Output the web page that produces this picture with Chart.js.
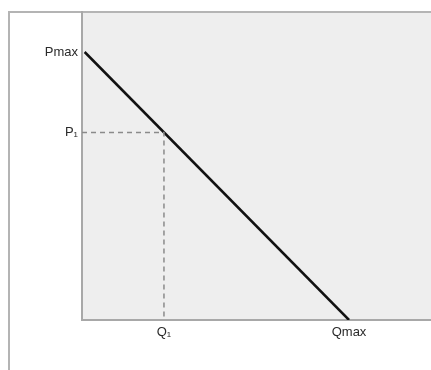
<!DOCTYPE html>
<html>
<head>
<meta charset="utf-8">
<script src="https://cdn.jsdelivr.net/npm/chart.js@4/dist/chart.umd.min.js"></script>
<style>
  html, body { margin:0; padding:0; background:#fff; overflow:hidden; }
  #wrap { width:431px; height:370px; }
</style>
</head>
<body>
<div id="wrap"><canvas id="demand-chart" width="431" height="370"></canvas></div>
<script>
// demand curve endpoints (quantity, price)
const demandQ = [0, 10];
const demandP = [10, 0];
// marked point on the curve
const markQ = 3;
const markP = 7;
// axis ticks
const xTickValues = [3, 10];
const xTickLabels = ["Q\u2081", "Qmax"];
const yTickValues = [7, 10];
const yTickLabels = ["P\u2081", "Pmax"];

const X_MIN = -0.1, X_MAX = 13.1, Y_MIN = 0, Y_MAX = 11.5;

(function(){
    const canvas = document.getElementById("demand-chart");

    const backdrop = {
        id: "backdrop",
        beforeDraw(chart){
            const {ctx, chartArea:a} = chart;
            ctx.save();
            ctx.fillStyle = "#eeeeee";
            ctx.fillRect(a.left, a.top, a.right - a.left, a.bottom - a.top);
            // outer frame
            ctx.strokeStyle = "#b4b4b4";
            ctx.lineWidth = 2;
            ctx.beginPath();
            ctx.moveTo(9, chart.height);
            ctx.lineTo(9, 12);
            ctx.lineTo(chart.width, 12);
            ctx.stroke();
            ctx.restore();
        }
    };

    const labelFor = (values, labels) => (v) => {
        const i = values.indexOf(v);
        return i >= 0 ? labels[i] : "";
    };

    const tickFont = { family: "'Liberation Sans', Arial, sans-serif", size: 13 };

    new Chart(canvas, {
        type: "line",
        data: {
            datasets: [
                {
                    label: "guide",
                    data: [{x: X_MIN, y: markP}, {x: markQ, y: markP}, {x: markQ, y: Y_MIN}],
                    borderColor: "#8a8a8a",
                    borderWidth: 1.5,
                    borderDash: [5, 4],
                    pointRadius: 0,
                    fill: false
                },
                {
                    label: "demand",
                    data: demandQ.map((q, i) => ({x: q, y: demandP[i]})),
                    borderColor: "#111111",
                    borderWidth: 2.5,
                    pointRadius: 0,
                    fill: false
                }
            ]
        },
        options: {
            responsive: false,
            animation: false,
            layout: { padding: { left: 0, top: 11, right: 0, bottom: 0 } },
            plugins: { legend: { display: false }, tooltip: { enabled: false } },
            scales: {
                x: {
                    type: "linear",
                    min: X_MIN,
                    max: X_MAX,
                    grid: { display: false, drawTicks: false, tickLength: 0 },
                    border: { display: true, color: "#a8a8a8", width: 2 },
                    afterBuildTicks: (s) => { s.ticks = xTickValues.map(v => ({value: v})); },
                    afterFit: (s) => { s.height = 50; },
                    ticks: {
                        padding: 5,
                        color: "#2a2a2a",
                        font: tickFont,
                        callback: labelFor(xTickValues, xTickLabels)
                    }
                },
                y: {
                    type: "linear",
                    min: Y_MIN,
                    max: Y_MAX,
                    grid: { display: false, drawTicks: false, tickLength: 0 },
                    border: { display: true, color: "#a8a8a8", width: 2 },
                    afterBuildTicks: (s) => { s.ticks = yTickValues.map(v => ({value: v})); },
                    afterFit: (s) => { s.width = 82; },
                    ticks: {
                        padding: 4,
                        color: "#2a2a2a",
                        font: tickFont,
                        callback: labelFor(yTickValues, yTickLabels)
                    }
                }
            }
        },
        plugins: [backdrop]
    });
})();
</script>
</body>
</html>
